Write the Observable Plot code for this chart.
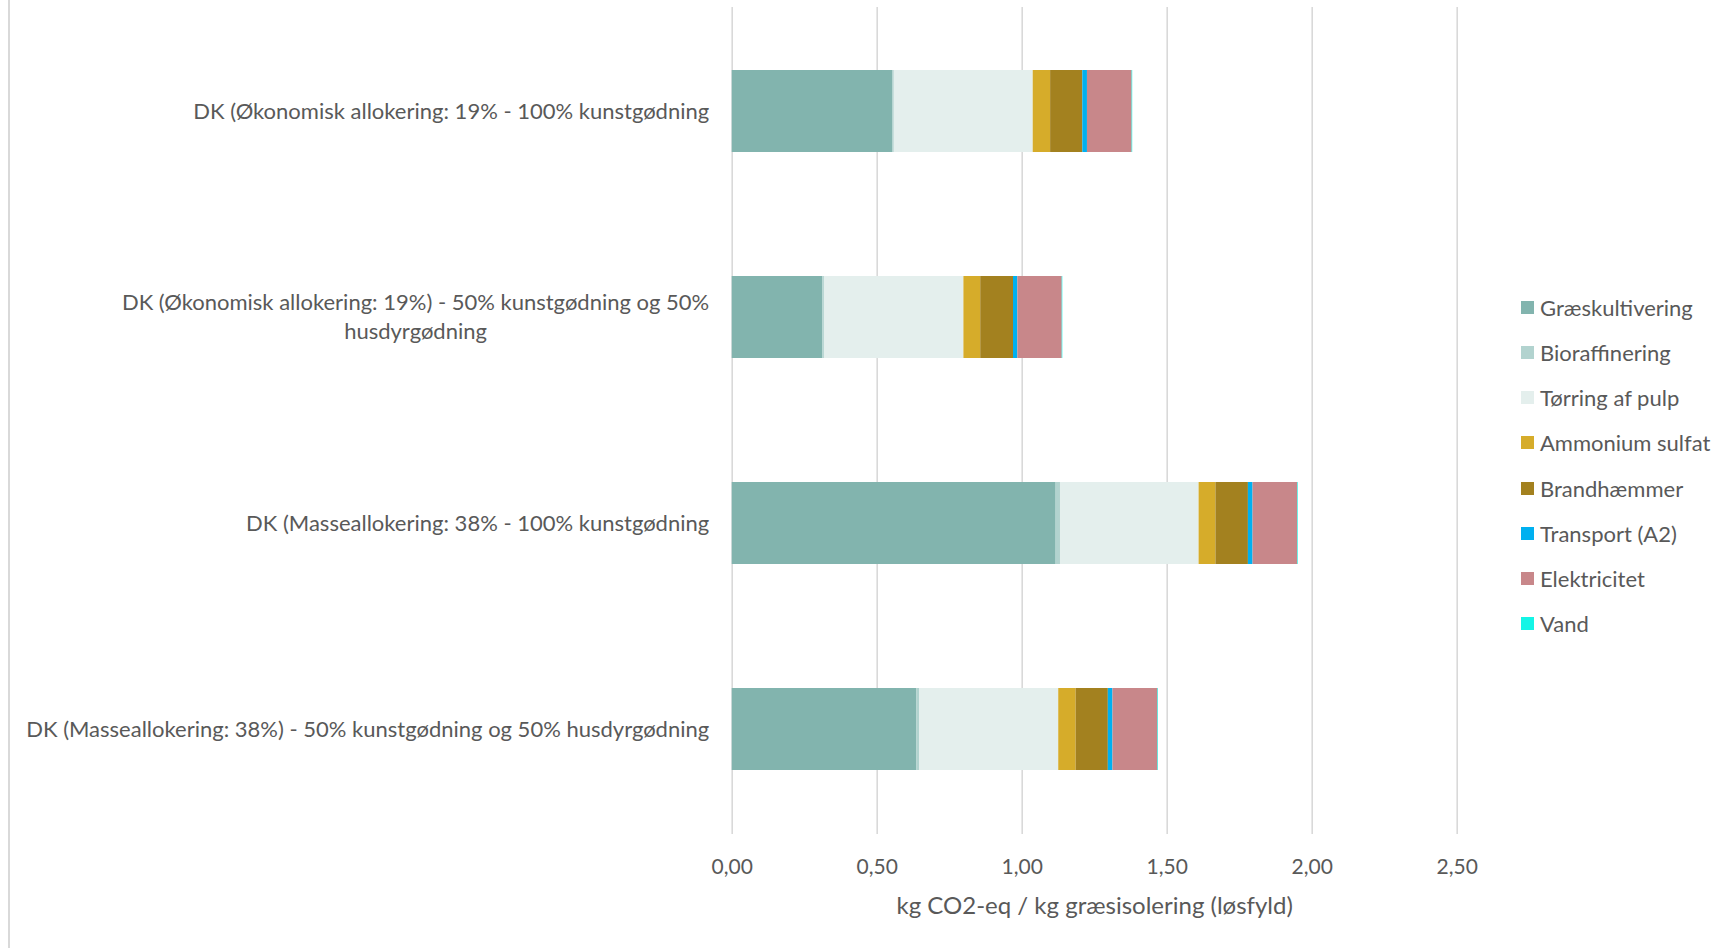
<!DOCTYPE html>
<html>
<head>
<meta charset="utf-8">
<script src="https://cdn.jsdelivr.net/npm/d3@7"></script>
<script src="https://cdn.jsdelivr.net/npm/@observablehq/plot@0.6"></script>
<style>
  html, body { margin: 0; padding: 0; background: #fff; }
  #wrap { position: relative; width: 1729px; height: 948px; overflow: hidden; }
  #border { position: absolute; left: 8px; top: 0; width: 2px; height: 948px; background: #d9d9d9; }
  #legend { position: absolute; left: 1521px; top: 0; font-family: Lato, "Open Sans", sans-serif; font-size: 22px; color: #595959; }
  .li { position: absolute; left: 0; white-space: nowrap; display: flex; align-items: center; height: 30px; }
  .sw { width: 13px; height: 13px; margin-right: 6px; flex: none; }
</style>
</head>
<body>
<div id="wrap"><div id="border"></div><div id="chart"></div><div id="legend"></div></div>
<script>
const categories = [
  "DK (Økonomisk allokering: 19% - 100% kunstgødning",
  "DK (Økonomisk allokering: 19%) - 50% kunstgødning og 50%\nhusdyrgødning",
  "DK (Masseallokering: 38% - 100% kunstgødning",
  "DK (Masseallokering: 38%) - 50% kunstgødning og 50% husdyrgødning"
];
const seriesNames = ["Græskultivering", "Bioraffinering", "Tørring af pulp", "Ammonium sulfat", "Brandhæmmer", "Transport (A2)", "Elektricitet", "Vand"];
const seriesColors = ["#82b4ae", "#b2d3cf", "#e4efed", "#d6ac2a", "#a3811f", "#00b0f0", "#c8878a", "#14f5e6"];
const graeskultivering = [0.553, 0.312, 1.117, 0.636];
const bioraffinering   = [0.006, 0.006, 0.015, 0.010];
const toerring         = [0.479, 0.481, 0.478, 0.480];
const ammonium         = [0.060, 0.058, 0.058, 0.060];
const brandhaemmer     = [0.111, 0.113, 0.112, 0.111];
const transport        = [0.016, 0.015, 0.016, 0.016];
const elektricitet     = [0.154, 0.153, 0.154, 0.155];
const vand             = [0.002, 0.002, 0.002, 0.002];
const xTicks = [0, 0.5, 1, 1.5, 2, 2.5];
const xLabel = "kg CO2-eq / kg græsisolering (løsfyld)";

const seriesValues = [graeskultivering, bioraffinering, toerring, ammonium, brandhaemmer, transport, elektricitet, vand];
const data = [];
seriesNames.forEach((s, si) => categories.forEach((c, ci) => data.push({category: c, series: s, value: seriesValues[si][ci]})));

const FONT = "Lato, 'Open Sans', sans-serif";
const FS = 22;
const ctx = document.createElement("canvas").getContext("2d");
ctx.font = `${FS}px Lato`;
const widest = t => Math.max(...t.split("\n").map(l => ctx.measureText(l).width));

const labelMarks = categories.map(c => Plot.text([c], {
  y: d => d, text: d => d, frameAnchor: "left", textAnchor: "middle",
  dx: -(23 + widest(c) / 2), dy: -2, lineHeight: 1.3, fill: "#595959", fontSize: FS
}));

const chart = Plot.plot({
  width: 1729, height: 948,
  marginLeft: 731.7, marginRight: 272.3, marginTop: 7, marginBottom: 114,
  style: {fontFamily: FONT, fontSize: FS + "px", color: "#595959", background: "transparent"},
  x: {domain: [0, 2.5], ticks: xTicks, label: null},
  y: {domain: categories, paddingInner: 0.6, paddingOuter: 0.3, axis: null},
  color: {domain: seriesNames, range: seriesColors},
  marks: [
    Plot.gridX(xTicks, {stroke: "#d9d9d9", strokeOpacity: 1, strokeWidth: 1.6}),
    Plot.barX(data, Plot.stackX({x: "value", y: "category", fill: "series", order: seriesNames})),
    Plot.axisX(xTicks, {tickSize: 0, tickPadding: 25, tickFormat: d => d.toFixed(2).replace(".", ","), fill: "#595959", fontSize: 21, label: null}),
    Plot.text([xLabel], {text: d => d, frameAnchor: "bottom", dy: 79, fill: "#595959", fontSize: 24}),
    ...labelMarks
  ]
});
document.getElementById("chart").appendChild(chart);

const legend = document.getElementById("legend");
seriesNames.forEach((s, i) => {
  const el = document.createElement("div");
  el.className = "li";
  el.style.top = (307.6 + i * 45.1 - 15) + "px";
  el.innerHTML = `<span class="sw" style="background:${seriesColors[i]}"></span><span>${s}</span>`;
  legend.appendChild(el);
});
</script>
</body>
</html>
